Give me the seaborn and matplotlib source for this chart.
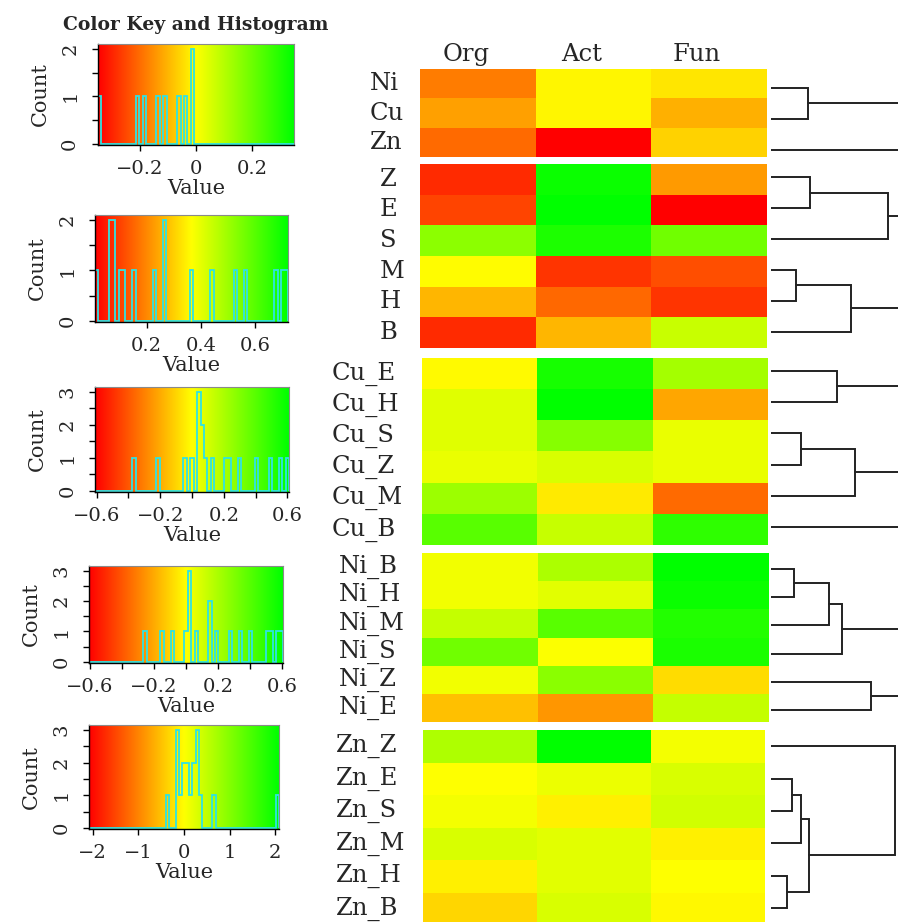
import numpy as np
import pandas as pd
import matplotlib
matplotlib.use("Agg")
import matplotlib.pyplot as plt
import matplotlib.transforms as mtransforms
import seaborn as sns
from matplotlib.colors import LinearSegmentedColormap
from matplotlib.ticker import MultipleLocator

# ---------------- data ----------------
columns = ["Org", "Act", "Fun"]

rows_metal = ["Ni", "Cu", "Zn"]
vals_metal = [[-0.179, -0.013, -0.035],
              [-0.130, -0.013, -0.107],
              [-0.203, -0.350, -0.061]]

rows_site = ["Z", "E", "S", "M", "H", "B"]
vals_site = [[0.071, 0.705, 0.226],
             [0.107, 0.720, 0.010],
             [0.525, 0.680, 0.563],
             [0.360, 0.083, 0.120],
             [0.264, 0.155, 0.083],
             [0.071, 0.264, 0.440]]

rows_cu = ["Cu_E", "Cu_H", "Cu_S", "Cu_Z", "Cu_M", "Cu_B"]
vals_cu = [[-0.010, 0.557, 0.216],
           [0.074, 0.610, -0.210],
           [0.074, 0.290, 0.052],
           [0.052, 0.095, 0.052],
           [0.237, -0.050, -0.357],
           [0.400, 0.134, 0.500]]

rows_ni = ["Ni_B", "Ni_H", "Ni_M", "Ni_S", "Ni_Z", "Ni_E"]
vals_ni = [[0.030, 0.196, 0.605],
           [0.030, 0.070, 0.578],
           [0.140, 0.394, 0.520],
           [0.336, 0.005, 0.540],
           [0.030, 0.275, -0.085],
           [-0.148, -0.248, 0.140]]

rows_zn = ["Zn_Z", "Zn_E", "Zn_S", "Zn_M", "Zn_H", "Zn_B"]
vals_zn = [[0.650, 2.080, 0.090],
           [0.015, 0.160, 0.310],
           [0.090, -0.130, 0.385],
           [0.310, 0.236, -0.130],
           [-0.130, 0.236, 0.015],
           [-0.330, 0.310, -0.060]]

# row dendrograms: (child_a, child_b, height); leaves 0..n-1, new clusters n, n+1, ...
dendro_metal = [(0, 1, 0.29), (3, 2, 1.30)]
dendro_site = [(0, 1, 0.31), (6, 2, 0.92), (3, 4, 0.20), (8, 5, 0.63), (7, 9, 1.30)]
dendro_cu = [(0, 1, 0.52), (2, 3, 0.24), (7, 4, 0.66), (6, 8, 1.20), (9, 5, 1.40)]
dendro_ni = [(0, 1, 0.18), (6, 2, 0.46), (7, 3, 0.56), (4, 5, 0.79), (8, 9, 1.30)]
dendro_zn = [(1, 2, 0.165), (6, 3, 0.236), (4, 5, 0.126), (7, 8, 0.30), (0, 9, 0.98)]

# key axis ticks / labels
key_ticks_metal = [-0.2, 0, 0.2]
key_labels_metal = ["\u22120.2", "0", "0.2"]
key_ticks_site = [0.2, 0.4, 0.6]
key_labels_site = ["0.2", "0.4", "0.6"]
key_ticks_cu = [-0.6, -0.2, 0.2, 0.6]
key_labels_cu = ["\u22120.6", "\u22120.2", "0.2", "0.6"]
key_ticks_ni = [-0.6, -0.2, 0.2, 0.6]
key_labels_ni = ["\u22120.6", "\u22120.2", "0.2", "0.6"]
key_ticks_zn = [-2, -1, 0, 1, 2]
key_labels_zn = ["\u22122", "\u22121", "0", "1", "2"]

# ---------------- style ----------------
sns.set_style("white")
plt.rcParams["font.family"] = ["DejaVu Serif", "DejaVu Sans"]

cmap = LinearSegmentedColormap.from_list("ryg", ["#FF0000", "#FFFF00", "#00FF00"])
HIST_COLOR = "#2FE3E3"
DEND_COLOR = "#222222"
NBINS = 57

W, H = 898, 922
fig = plt.figure(figsize=(W / 100, H / 100), dpi=100)


def px_ax(x0, y0, x1, y1):
    return fig.add_axes([x0 / W, 1 - y1 / H, (x1 - x0) / W, (y1 - y0) / H])


panels = [
    dict(rows=rows_metal, vals=vals_metal, dend=dendro_metal, sym=True,
         ticks=key_ticks_metal, labels=key_labels_metal, minor=None,
         hm=(420, 69, 767, 157), dd=(771, 72, 898, 165), key=(98, 44, 294, 145),
         pad=36, top=True),
    dict(rows=rows_site, vals=vals_site, dend=dendro_site, sym=False,
         ticks=key_ticks_site, labels=key_labels_site, minor=None,
         hm=(420, 164, 767, 348), dd=(771, 162, 898, 347), key=(95, 215, 288, 322),
         pad=29, top=False),
    dict(rows=rows_cu, vals=vals_cu, dend=dendro_cu, sym=True,
         ticks=key_ticks_cu, labels=key_labels_cu, minor=0.2,
         hm=(422, 358, 768, 545), dd=(771, 355, 898, 543), key=(95, 387, 289, 492),
         pad=65, top=False),
    dict(rows=rows_ni, vals=vals_ni, dend=dendro_ni, sym=True,
         ticks=key_ticks_ni, labels=key_labels_ni, minor=0.2,
         hm=(422, 553, 769, 722), dd=(771, 555, 898, 724), key=(89, 566, 283, 663),
         pad=60, top=False),
    dict(rows=rows_zn, vals=vals_zn, dend=dendro_zn, sym=True,
         ticks=key_ticks_zn, labels=key_labels_zn, minor=None,
         hm=(423, 730, 765, 925), dd=(771, 730, 898, 924), key=(89, 725, 279, 829),
         pad=63, top=False),
]


def draw_dendro(ax, n, merges):
    pos = {i: (0.0, i + 0.5) for i in range(n)}
    for k, (a, b, h) in enumerate(merges):
        ha, ya = pos[a]
        hb, yb = pos[b]
        ax.plot([ha, h, h, hb], [ya, ya, yb, yb], color=DEND_COLOR, lw=1.4,
                solid_joinstyle="miter")
        pos[n + k] = (h, (ya + yb) / 2)
    ax.set_xlim(0, 1.0)
    ax.set_ylim(n, 0)
    ax.axis("off")


for p in panels:
    df = pd.DataFrame(p["vals"], index=p["rows"], columns=columns)
    arr = df.values.ravel()
    if p["sym"]:
        m = np.abs(arr).max()
        vmin, vmax = -m, m
    else:
        vmin, vmax = arr.min(), arr.max()

    # heatmap
    ax = px_ax(*p["hm"])
    sns.heatmap(df, ax=ax, cmap=cmap, vmin=vmin, vmax=vmax, cbar=False,
                xticklabels=columns if p["top"] else False,
                yticklabels=p["rows"])
    ax.set_xlabel("")
    ax.set_ylabel("")
    ax.tick_params(axis="y", length=0, pad=p["pad"], labelsize=17.5, rotation=0)
    for t in ax.get_yticklabels():
        t.set_ha("left")
    if p["top"]:
        ax.xaxis.tick_top()
        ax.tick_params(axis="x", length=0, pad=2, labelsize=17.5, rotation=0)
        shift = mtransforms.ScaledTranslation(-12 / 100, 0, fig.dpi_scale_trans)
        for t in ax.get_xticklabels():
            t.set_transform(t.get_transform() + shift)

    # dendrogram
    axd = px_ax(*p["dd"])
    draw_dendro(axd, len(p["rows"]), p["dend"])

    # color key + histogram
    axk = px_ax(*p["key"])
    edges = np.linspace(vmin, vmax, NBINS + 1)
    counts, _ = np.histogram(arr, bins=edges)
    cmax = counts.max()
    ylo, yhi = -0.012 * cmax, 1.05 * cmax
    grad = np.linspace(0, 1, 256)[np.newaxis, :]
    axk.imshow(grad, extent=[vmin, vmax, ylo, yhi], aspect="auto", cmap=cmap,
               origin="lower", interpolation="bilinear")
    axk.stairs(counts, edges, color=HIST_COLOR, lw=1.3, baseline=0)
    axk.set_xlim(vmin, vmax)
    axk.set_ylim(ylo, yhi)
    axk.set_xticks(p["ticks"])
    axk.set_xticklabels(p["labels"], fontsize=14)
    if p["minor"]:
        axk.xaxis.set_minor_locator(MultipleLocator(p["minor"]))
    axk.set_yticks(range(0, cmax + 1))
    axk.set_yticklabels([str(i) for i in range(0, cmax + 1)], fontsize=14,
                        rotation=90, va="center")
    axk.yaxis.set_minor_locator(MultipleLocator(0.5))
    axk.tick_params(axis="both", which="both", direction="out", length=4.5,
                    width=1, color="black", left=True, bottom=True)
    axk.tick_params(axis="x", pad=6)
    axk.tick_params(axis="y", pad=9)
    axk.set_xlabel("Value", fontsize=15, labelpad=1)
    axk.set_ylabel("Count", fontsize=15, labelpad=8)
    for s in ["top", "right"]:
        axk.spines[s].set_color("#8a8a8a")
        axk.spines[s].set_linewidth(0.8)
    for s in ["left", "bottom"]:
        axk.spines[s].set_color("black")
        axk.spines[s].set_linewidth(1.0)

fig.text(196 / W, 1 - 25 / H, "Color Key and Histogram", ha="center", va="center",
         fontsize=13.5, fontweight="bold")

fig.savefig("out.png", dpi=100)
